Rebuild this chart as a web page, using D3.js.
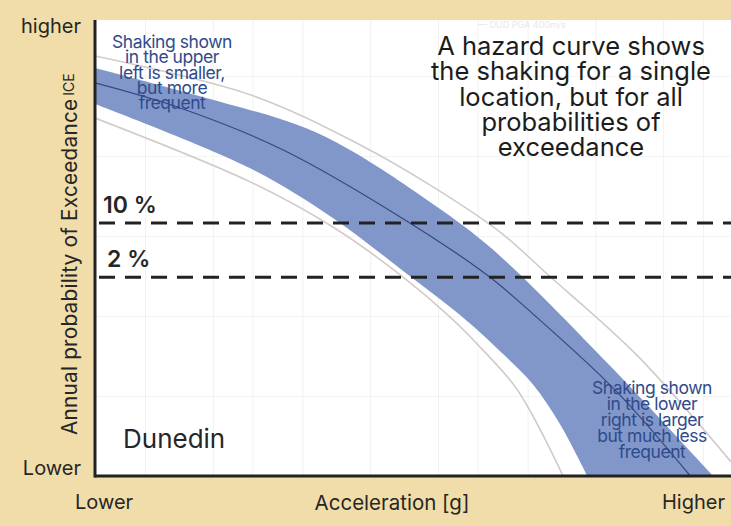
<!DOCTYPE html>
<html>
<head>
<meta charset="utf-8">
<script src="https://cdn.jsdelivr.net/npm/d3@7"></script>
<style>
	body { margin: 0; background: #f1dda9; }
	svg { display: block; font-family: Inter, "Noto Sans", sans-serif; }
</style>
</head>
<body>
<svg id="chart" width="731" height="526"></svg>
<script>
/*********************************************************\
* Hazard curve sketch (Dunedin)                           *
\*********************************************************/

// curves as [acceleration, probability] in relative units 0..100
var medianCurve = [[0, 86.2], [13.4, 80.7], [29.6, 71.5], [49.5, 55.5],
	[61.8, 43.9], [68.9, 35.5], [82.1, 18.4], [93.6, 0]];
var bandUpper = [[0, 89.5], [16.5, 83.3], [32.2, 76.8], [40.1, 71.5],
	[53.8, 59.0], [62.6, 49.6], [80.9, 24.3], [97.2, 0]];
var bandLower = [[0, 81.6], [24.4, 67.5], [37.4, 56.6], [48.7, 44.7],
	[57.4, 35.3], [64.5, 26.3], [68.9, 20.0], [73.1, 11.4], [77.4, 0]];
var outerUpper = [[0, 92.1], [24.4, 83.6], [41.7, 72.6], [52.7, 63.8],
	[63.7, 53.5], [71.1, 44.3], [85.2, 26.5], [100, 3.1]];
var outerLower = [[0, 78.5], [24.4, 64.5], [37.4, 54.6], [48.0, 44.1],
	[55.8, 34.9], [61.0, 27.6], [66.4, 18.9], [73.6, 0]];

var levelLabels = ['10 %', '2 %'];
var levelValues = [55.5, 43.6];

var yEnds = ['higher', 'Lower'];
var xEnds = ['Lower', 'Higher'];

var noteUpper = ['Shaking shown', 'in the upper', 'left is smaller,', 'but more', 'frequent'];
var noteLower = ['Shaking shown', 'in the lower', 'right is larger', 'but much less', 'frequent'];
var noteMain = ['A hazard curve shows', 'the shaking for a single',
	'location, but for all', 'probabilities of', 'exceedance'];

var gridX = [0.01, 0.02, 0.03, 0.05, 0.1, 0.2, 0.3, 0.5, 1, 2, 3];
var gridY = [1e-5, 1e-4, 1e-3, 1e-2, 1e-1];

//- - - - - - - - - - - - - - - - - - - - - - - - - - - - - - - - - - - - - - -

var svg = d3.select('#chart'),
	pLeft = 95, pRight = 731, pTop = 20, pBottom = 476;

var x = d3.scaleLinear().domain([0, 100]).range([pLeft, pRight]),
	y = d3.scaleLinear().domain([0, 100]).range([pBottom, pTop]),
	gx = d3.scaleLog().domain([0.006, 4]).range([pLeft, pRight]),
	gy = d3.scaleLog().domain([1e-6, 0.5]).range([pBottom, pTop]);

svg.append('rect')
	.attr('width', 731).attr('height', 526)
	.attr('fill', '#f1dda9');

svg.append('clipPath').attr('id', 'plot')
	.append('rect')
	.attr('x', pLeft).attr('y', pTop)
	.attr('width', pRight - pLeft).attr('height', pBottom - pTop);

var plot = svg.append('g').attr('clip-path', 'url(#plot)');

plot.append('rect')
	.attr('x', pLeft).attr('y', pTop)
	.attr('width', pRight - pLeft).attr('height', pBottom - pTop)
	.attr('fill', '#ffffff');

// faint grid
plot.append('g')
	.attr('transform', 'translate(0,' + pBottom + ')')
	.call(d3.axisBottom(gx).tickValues(gridX).tickSize(pTop - pBottom).tickFormat(''))
	.call(function (g) { g.select('.domain').remove(); })
	.selectAll('line').attr('stroke', '#f1f1f1');

plot.append('g')
	.attr('transform', 'translate(' + pLeft + ',0)')
	.call(d3.axisLeft(gy).tickValues(gridY).tickSize(pLeft - pRight).tickFormat(''))
	.call(function (g) { g.select('.domain').remove(); })
	.selectAll('line').attr('stroke', '#f3f3f3');

plot.append('text')
	.attr('x', 478).attr('y', 28)
	.attr('font-size', 9).attr('fill', '#e8e8e8')
	.text('\u2014  DUD PGA 400m/s');

var line = d3.line()
	.x(function (d) { return x(d[0]); })
	.y(function (d) { return y(d[1]); })
	.curve(d3.curveCatmullRom);

var upperPath = line(bandUpper),
	lowerPath = line(bandLower.slice().reverse());

plot.append('path')
	.attr('d', upperPath + 'L' + lowerPath.slice(1) + 'Z')
	.attr('fill', '#8197ca');

plot.selectAll('path.outer')
	.data([outerUpper, outerLower])
	.enter()
	.append('path')
	.attr('class', 'outer')
	.attr('d', line)
	.attr('fill', 'none')
	.attr('stroke', '#d3caca')
	.attr('stroke-width', 1.6);

plot.append('path')
	.attr('d', line(medianCurve))
	.attr('fill', 'none')
	.attr('stroke', '#34497f')
	.attr('stroke-width', 1.2);

// exceedance levels
plot.selectAll('line.level')
	.data(levelValues)
	.enter()
	.append('line')
	.attr('class', 'level')
	.attr('x1', pLeft + 4).attr('x2', pRight)
	.attr('y1', y).attr('y2', y)
	.attr('stroke', '#222')
	.attr('stroke-width', 3)
	.attr('stroke-dasharray', '16,10');

svg.selectAll('text.level')
	.data(levelLabels)
	.enter()
	.append('text')
	.attr('class', 'level')
	.attr('x', function (d, i) { return i ? 107 : 103; })
	.attr('y', function (d, i) { return y(levelValues[i]) - 10; })
	.attr('font-size', 23).attr('font-weight', 600)
	.attr('fill', '#262626')
	.text(function (d) { return d; });

// annotations
function note(lines, cx, base, step, size, weight, color, spacing)
{
	svg.append('text')
		.attr('text-anchor', 'middle')
		.attr('font-size', size)
		.attr('font-weight', weight)
		.attr('fill', color)
		.attr('letter-spacing', spacing)
		.selectAll('tspan')
		.data(lines)
		.enter()
		.append('tspan')
		.attr('x', cx)
		.attr('y', function (d, i) { return base + i * step; })
		.text(function (d) { return d; });
}

note(noteUpper, 172, 48, 15.3, 17.5, 400, '#2f4b8c', -0.45);
note(noteLower, 652, 394, 16, 17.5, 400, '#2f4b8c', -0.45);
note(noteMain, 571, 55, 25.3, 25.5, 400, '#1c1c1c', 0);

svg.append('text')
	.attr('x', 123).attr('y', 448)
	.attr('font-size', 26).attr('fill', '#262626')
	.text('Dunedin');

// axes
svg.append('line')
	.attr('x1', pLeft).attr('x2', pLeft)
	.attr('y1', pTop).attr('y2', pBottom + 1.5)
	.attr('stroke', '#222').attr('stroke-width', 3);

svg.append('line')
	.attr('x1', pLeft).attr('x2', pRight)
	.attr('y1', pBottom).attr('y2', pBottom)
	.attr('stroke', '#222').attr('stroke-width', 3);

svg.selectAll('text.yend')
	.data(yEnds)
	.enter()
	.append('text')
	.attr('class', 'yend')
	.attr('x', 81)
	.attr('y', function (d, i) { return i ? 475 : 33; })
	.attr('text-anchor', 'end')
	.attr('font-size', 20).attr('fill', '#262626')
	.text(function (d) { return d; });

svg.selectAll('text.xend')
	.data(xEnds)
	.enter()
	.append('text')
	.attr('class', 'xend')
	.attr('x', function (d, i) { return i ? 725 : 75; })
	.attr('y', 509)
	.attr('text-anchor', function (d, i) { return i ? 'end' : 'start'; })
	.attr('font-size', 20).attr('fill', '#262626')
	.text(function (d) { return d; });

svg.append('text')
	.attr('x', 392).attr('y', 510)
	.attr('text-anchor', 'middle')
	.attr('font-size', 20.5).attr('fill', '#262626')
	.text('Acceleration [g]');

var ytitle = svg.append('text')
	.attr('transform', 'translate(77,435) rotate(-90)')
	.attr('font-size', 20.8).attr('letter-spacing', 0.2)
	.attr('fill', '#262626');
ytitle.append('tspan').text('Annual probability of Exceedance');
ytitle.append('tspan').attr('dx', 3).attr('dy', -3)
	.attr('font-size', 14).attr('letter-spacing', 0).text('ICE');

//------------------------------------------------------------------------------
</script>
</body>
</html>
